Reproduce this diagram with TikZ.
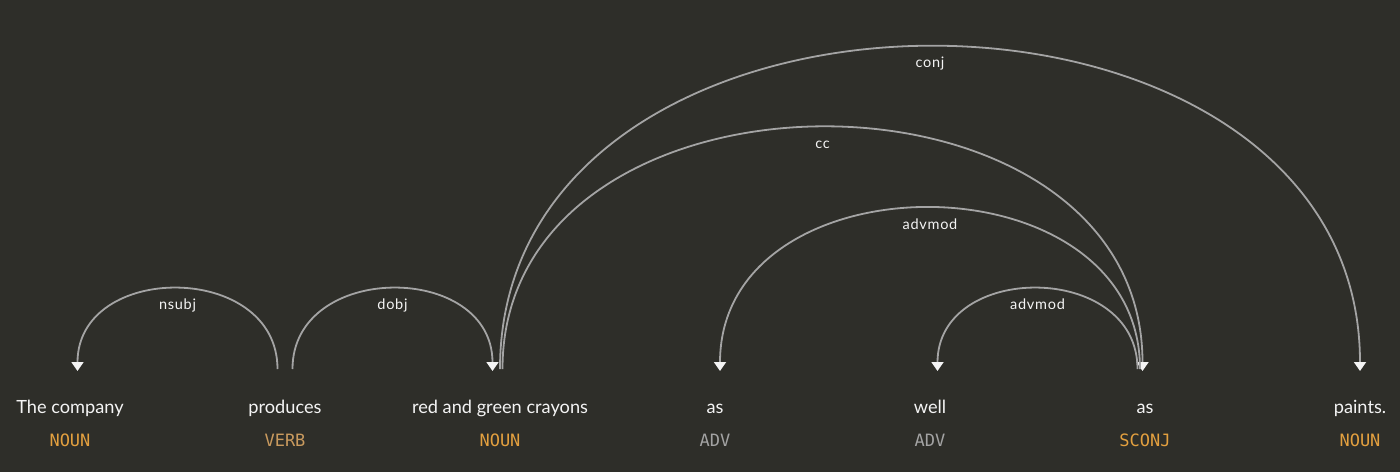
\documentclass[tikz,border=0pt]{standalone}
\usepackage{fontspec}
\setmainfont{Lato}
\setmonofont{DejaVu Sans Mono}
\usetikzlibrary{arrows.meta,calc}

\definecolor{bgc}{HTML}{2E2E29}
\definecolor{arcc}{HTML}{A4A4A4}
\definecolor{headc}{HTML}{F4F4F4}
\definecolor{wordc}{HTML}{F4F4F4}
\definecolor{nounc}{HTML}{E3A03F}
\definecolor{verbc}{HTML}{C99A5E}
\definecolor{advc}{HTML}{A3A3A3}

\tikzset{
  word/.style={anchor=base, text=wordc, inner sep=0pt, font=\fontsize{18.2}{20}\selectfont},
  tag/.style={anchor=base, inner sep=0pt, font=\ttfamily\fontsize{17}{20}\selectfont},
  deparc/.style={draw=arcc, line width=1.8pt},
  lab/.style={anchor=base, text=wordc, inner sep=0pt, yshift=-21pt,
    font=\fontsize{14.5}{16}\selectfont\addfontfeature{LetterSpace=5}},
}

\begin{document}
\begin{tikzpicture}[x=1pt,y=-1pt,>={Triangle[width=12pt,length=9pt,color=headc]}]
  \fill[bgc] (0,0) rectangle (1400,472);
  \useasboundingbox (0,0) rectangle (1400,472);

  % words and their tags
  \node[word] (w0) at (70,413)   {The company};
  \node[word] (w1) at (285,413)  {produces};
  \node[word] (w2) at (500,413)  {red and green crayons};
  \node[word] (w3) at (715,413)  {as};
  \node[word] (w4) at (930,413)  {well};
  \node[word] (w5) at (1145,413) {as};
  \node[word] (w6) at (1360,413) {paints.};

  \node[tag, text=nounc] (t0) at (70,446.5)   {NOUN};
  \node[tag, text=verbc] (t1) at (285,446.5)  {VERB};
  \node[tag, text=nounc] (t2) at (500,446.5)  {NOUN};
  \node[tag, text=advc]  (t3) at (715,446.5)  {ADV};
  \node[tag, text=advc]  (t4) at (930,446.5)  {ADV};
  \node[tag, text=nounc] (t5) at (1145,446.5) {SCONJ};
  \node[tag, text=nounc] (t6) at (1360,446.5) {NOUN};

  % arc feet above each word
  \coordinate (b0) at (70,369);
  \coordinate (b1) at (285,369);
  \coordinate (b2) at (500,369);
  \coordinate (b3) at (715,369);
  \coordinate (b4) at (930,369);
  \coordinate (b5) at (1145,369);
  \coordinate (b6) at (1360,369);

  % nsubj: produces -> The company (level 1)
  \draw[deparc, <-] ($(b0)+(7.5,2)$)
     .. controls ($(b0)+(7.5,-107.5)$) and ($(b1)+(-7.5,-107.5)$) .. ($(b1)+(-7.5,0)$)
     node[lab, pos=0.5] {nsubj};

  % dobj: produces -> crayons (level 1)
  \draw[deparc, ->] ($(b1)+(7.5,0)$)
     .. controls ($(b1)+(7.5,-107.5)$) and ($(b2)+(-7.5,-107.5)$) .. ($(b2)+(-7.5,2)$)
     node[lab, pos=0.5] {dobj};

  % conj: crayons -> paints (level 4)
  \draw[deparc, ->] ($(b2)+(0,0)$)
     .. controls ($(b2)+(0,-430)$) and ($(b6)+(0,-430)$) .. ($(b6)+(0,2)$)
     node[lab, pos=0.5] {conj};

  % cc: crayons -> as (level 3)
  \draw[deparc, ->] ($(b2)+(2.5,0)$)
     .. controls ($(b2)+(2.5,-322.5)$) and ($(b5)+(-2.5,-322.5)$) .. ($(b5)+(-2.5,2)$)
     node[lab, pos=0.5] {cc};

  % advmod: as -> as (level 2)
  \draw[deparc, <-] ($(b3)+(5,2)$)
     .. controls ($(b3)+(5,-215)$) and ($(b5)+(-5,-215)$) .. ($(b5)+(-5,0)$)
     node[lab, pos=0.5] {advmod};

  % advmod: as -> well (level 1)
  \draw[deparc, <-] ($(b4)+(7.5,2)$)
     .. controls ($(b4)+(7.5,-107.5)$) and ($(b5)+(-7.5,-107.5)$) .. ($(b5)+(-7.5,0)$)
     node[lab, pos=0.5] {advmod};
\end{tikzpicture}
\end{document}
